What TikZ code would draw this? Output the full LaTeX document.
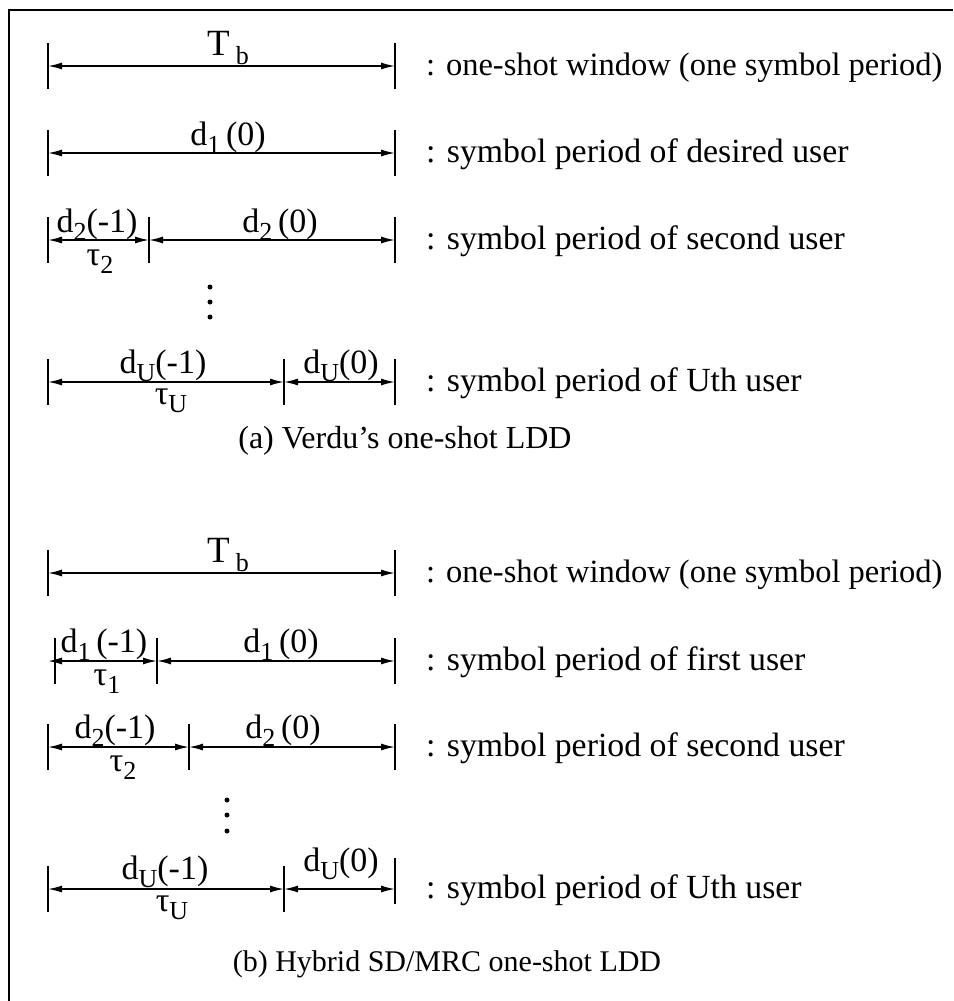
\documentclass[tikz,border=0pt]{standalone}
\usepackage{fontspec}
\setmainfont{Liberation Serif}
\usetikzlibrary{arrows.meta}
% lowered subscript used in the interval labels
\newcommand{\lowsub}[1]{\raisebox{-0.26em}{\fontsize{26}{26}\selectfont #1}}
\tikzset{
  span/.style={line width=1.5pt,
    {Latex[length=14pt,width=7pt]}-{Latex[length=14pt,width=7pt]}},
  tickmark/.style={line width=1.6pt},
  lab/.style={font=\fontsize{34}{34}\selectfont, anchor=base, inner sep=0pt},
  biglab/.style={font=\fontsize{37}{37}\selectfont, anchor=base, inner sep=0pt},
  desc/.style={font=\fontsize{33.8}{33.8}\selectfont, anchor=base west, inner sep=0pt},
  widedesc/.style={desc, font=\fontsize{32.5}{32.5}\selectfont},
  captext/.style={anchor=base, inner sep=0pt},
  vdot/.style={fill, circle, inner sep=0pt, minimum size=5pt},
}
\begin{document}
\begin{tikzpicture}[x=1pt,y=-1pt]
\useasboundingbox (0,0) rectangle (953,1001);
% open frame (left and top edges)
\draw[line width=2pt] (9,1001) -- (9,10) -- (953,10);

% ---------------- (a) Verdu's one-shot LDD ----------------
\coordinate (a1L) at (48,66);  \coordinate (a1R) at (395,66);
\coordinate (a2L) at (48,153); \coordinate (a2R) at (395,153);
\coordinate (a3L) at (48,240); \coordinate (a3M) at (149,240); \coordinate (a3R) at (395,240);
\coordinate (a4L) at (48,382); \coordinate (a4M) at (284,382); \coordinate (a4R) at (395,382);

\foreach \p in {a1L,a1R,a2L,a2R,a3L,a3M,a3R,a4L,a4M,a4R}
  \draw[tickmark] ([yshift=23pt]\p) -- ([yshift=-23pt]\p);

\draw[span] (a1L) -- (a1R);
\draw[span] (a2L) -- (a2R);
\draw[span] (a3L) -- (a3M);
\draw[span] (a3M) -- (a3R);
\draw[span] (a4L) -- (a4M);
\draw[span] (a4M) -- (a4R);

\node[biglab] (a1t) at (228,55) {T\,\lowsub{b}};
\node[lab] (a2t) at (228,145) {d\lowsub{1}\,(0)};
\node[lab] (a3t1) at (97,232) {d\lowsub{2}(-1)};
\node[lab] (a3t2) at (280,232) {d\lowsub{2}\,(0)};
\node[lab] (a3b) at (100,265) {τ\lowsub{2}};
\node[lab] (a4t1) at (163,373) {d\lowsub{U}(-1)};
\node[lab] (a4t2) at (341,373) {d\lowsub{U}(0)};
\node[lab] (a4b) at (171,404) {τ\lowsub{U}};

\node[widedesc] (a1d) at (426,75)  {: one-shot window (one symbol period)};
\node[desc] (a2d) at (426,162) {: symbol period of desired user};
\node[desc] (a3d) at (426,249) {: symbol period of second user};
\node[desc] (a4d) at (426,391) {: symbol period of Uth user};

\node[vdot] (adot1) at (210,287) {};
\node[vdot] (adot2) at (210,302) {};
\node[vdot] (adot3) at (210,317) {};

\node[captext, font=\fontsize{32}{32}\selectfont] (acap) at (405,448) {(a) Verdu’s one-shot LDD};

% ---------------- (b) Hybrid SD/MRC one-shot LDD ----------------
\coordinate (b1L) at (48,573);  \coordinate (b1R) at (395,573);
\coordinate (b2A) at (48,661);  \coordinate (b2L) at (55,661);
\coordinate (b2M) at (157,661); \coordinate (b2R) at (395,661);
\coordinate (b3L) at (48,747);  \coordinate (b3M) at (189,747); \coordinate (b3R) at (395,747);
\coordinate (b4L) at (48,889);  \coordinate (b4M) at (284,889); \coordinate (b4R) at (395,889);
\coordinate (b4T) at (395,881);

\foreach \p in {b1L,b1R,b2L,b2M,b2R,b3L,b3M,b3R,b4L,b4M,b4T}
  \draw[tickmark] ([yshift=23pt]\p) -- ([yshift=-23pt]\p);

\draw[span] (b1L) -- (b1R);
\draw[span] (b2A) -- (b2M);
\draw[span] (b2M) -- (b2R);
\draw[span] (b3L) -- (b3M);
\draw[span] (b3M) -- (b3R);
\draw[span] (b4L) -- (b4M);
\draw[span] (b4M) -- (b4R);

\node[biglab] (b1t) at (228,562) {T\,\lowsub{b}};
\node[lab] (b2t1) at (104,652) {d\lowsub{1}\,(-1)};
\node[lab] (b2t2) at (281,652) {d\lowsub{1}\,(0)};
\node[lab] (b2b) at (107,685) {τ\lowsub{1}};
\node[lab] (b3t1) at (115,738) {d\lowsub{2}(-1)};
\node[lab] (b3t2) at (283,738) {d\lowsub{2}\,(0)};
\node[lab] (b3b) at (123,771) {τ\lowsub{2}};
\node[lab] (b4t1) at (165,879) {d\lowsub{U}(-1)};
\node[lab] (b4t2) at (341,871) {d\lowsub{U}(0)};
\node[lab] (b4b) at (172,911) {τ\lowsub{U}};

\node[widedesc] (b1d) at (426,582) {: one-shot window (one symbol period)};
\node[desc] (b2d) at (426,670) {: symbol period of first user};
\node[desc] (b3d) at (426,756) {: symbol period of second user};
\node[desc] (b4d) at (426,898) {: symbol period of Uth user};

\node[vdot] (bdot1) at (227,800) {};
\node[vdot] (bdot2) at (227,815) {};
\node[vdot] (bdot3) at (227,831) {};

\node[captext, font=\fontsize{30}{30}\selectfont] (bcap) at (447,971) {(b) Hybrid SD/MRC one-shot LDD};
\end{tikzpicture}
\end{document}
